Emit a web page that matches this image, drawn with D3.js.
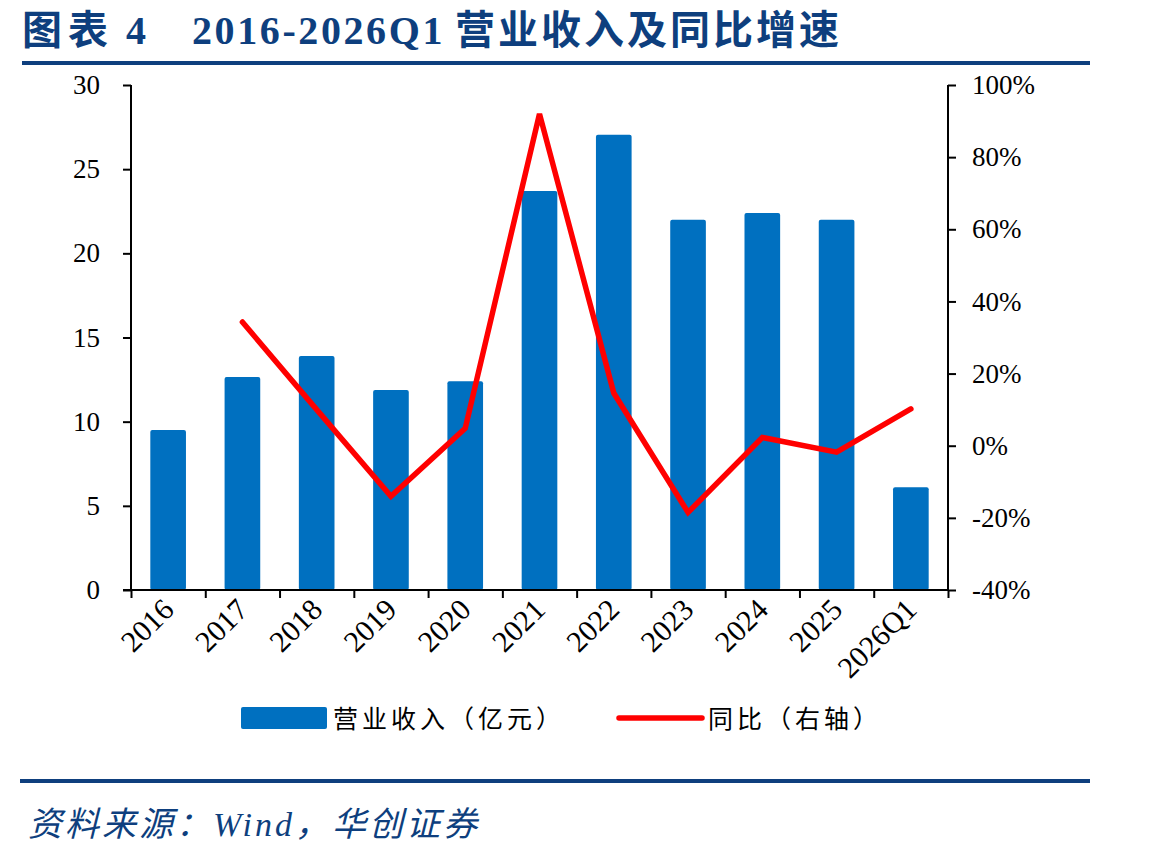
<!DOCTYPE html>
<html>
<head>
<meta charset="utf-8">
<script src="https://cdn.jsdelivr.net/npm/d3@7"></script>
<style>
  body { margin: 0; background: #fff; }
  svg { display: block; }
</style>
</head>
<body>
<svg id="chart" width="1149" height="857"></svg>
<script>
// Data
const categories = ["2016", "2017", "2018", "2019", "2020", "2021", "2022", "2023", "2024", "2025", "2026Q1"];
const revenue = [9.5, 12.65, 13.9, 11.88, 12.4, 23.7, 27.05, 22.0, 22.4, 22.0, 6.1];
const growth = [null, 34.3, 10.0, -14.0, 4.8, 92.0, 14.6, -18.5, 2.3, -1.8, 10.2];
const leftTicks = [0, 5, 10, 15, 20, 25, 30];
const rightTicks = [-40, -20, 0, 20, 40, 60, 80, 100];

const colors = {
  bar: "#0070C0",
  line: "#FF0000",
  navy: "#0E3F7E",
};

const serif = "'Liberation Serif', 'DejaVu Serif', serif";
const cjk = "'Liberation Serif', 'Noto Sans CJK SC', serif";

const svg = d3.select("#chart");
const margin = { left: 131, right: 948, top: 85, bottom: 590 };

const x = d3.scaleBand().domain(categories).range([margin.left, margin.right]).paddingInner(0.52).paddingOuter(0.26);
const xEdges = d3.scaleLinear().domain([0, categories.length]).range([margin.left, margin.right]);
const yL = d3.scaleLinear().domain([0, 30]).range([margin.bottom, margin.top]);
const yR = d3.scaleLinear().domain([-40, 100]).range([margin.bottom, margin.top]);

// Title
const title = svg.append("text")
  .attr("x", 22).attr("y", 44)
  .attr("fill", colors.navy)
  .attr("font-family", cjk)
  .attr("font-weight", "bold")
  .attr("font-size", 40);
title.append("tspan").attr("letter-spacing", 6).text("图表");
title.append("tspan").attr("dx", 12).text("4");
title.append("tspan").attr("dx", 46).attr("letter-spacing", 2.6).text("2016-2026Q1");
title.append("tspan").attr("dx", 10).attr("letter-spacing", 3).text("营业收入及同比增速");

// Rules
svg.append("rect").attr("x", 22).attr("y", 61).attr("width", 1068).attr("height", 4).attr("fill", colors.navy);
svg.append("rect").attr("x", 20).attr("y", 779).attr("width", 1070).attr("height", 4).attr("fill", colors.navy);

// Bars
svg.append("g").selectAll("rect")
  .data(categories)
  .join("rect")
  .attr("x", (d) => x(d))
  .attr("y", (d, i) => yL(revenue[i]))
  .attr("width", x.bandwidth())
  .attr("height", (d, i) => yL(0) - yL(revenue[i]))
  .attr("rx", 2)
  .attr("fill", colors.bar);

// Left axis
const axL = svg.append("g")
  .attr("transform", `translate(${margin.left},0)`)
  .call(d3.axisLeft(yL).tickValues(leftTicks).tickSize(8).tickPadding(23));
// Right axis
const axR = svg.append("g")
  .attr("transform", `translate(${margin.right},0)`)
  .call(d3.axisRight(yR).tickValues(rightTicks).tickSize(8).tickPadding(16).tickFormat((d) => d + "%"));
// Bottom axis line + ticks at band edges
const axB = svg.append("g")
  .attr("transform", `translate(0,${margin.bottom})`)
  .call(d3.axisBottom(xEdges).tickValues(d3.range(categories.length + 1)).tickSize(8).tickFormat(""));
axB.select(".domain").attr("d", `M${margin.left - 8},0H${margin.right}`);

[axL, axR, axB].forEach((g) => {
  g.select(".domain").attr("stroke", "#000").attr("stroke-width", 2);
  g.selectAll(".tick line").attr("stroke", "#000").attr("stroke-width", 2);
  g.selectAll("text").attr("font-family", serif).attr("font-size", 27).attr("fill", "#000");
});
axL.select(".domain").attr("d", `M0,${margin.top}V${margin.bottom}`);
axR.select(".domain").attr("d", `M0,${margin.top}V${margin.bottom}`);

// X labels rotated
svg.append("g").selectAll("text")
  .data(categories)
  .join("text")
  .attr("transform", (d) => `translate(${x(d) + x.bandwidth() / 2},${margin.bottom + 14}) rotate(-45)`)
  .attr("text-anchor", "end")
  .attr("dy", "0.35em")
  .attr("font-family", serif)
  .attr("font-size", 30)
  .text((d) => d);

// Growth line
const line = d3.line()
  .defined((d) => d != null)
  .x((d, i) => x(categories[i]) + x.bandwidth() / 2)
  .y((d) => yR(d));
svg.append("path")
  .datum(growth)
  .attr("d", line)
  .attr("fill", "none")
  .attr("stroke", colors.line)
  .attr("stroke-width", 5.5)
  .attr("stroke-linejoin", "miter")
  .attr("stroke-linecap", "round");

// Legend
const legend = svg.append("g").attr("font-family", "'Noto Sans CJK SC', sans-serif").attr("font-size", 25);
legend.append("rect").attr("x", 241).attr("y", 707).attr("width", 86).attr("height", 22).attr("rx", 2).attr("fill", colors.bar);
legend.append("text").attr("x", 333).attr("y", 728).attr("letter-spacing", 4).text("营业收入（亿元）");
legend.append("line").attr("x1", 619).attr("x2", 702).attr("y1", 718).attr("y2", 718)
  .attr("stroke", colors.line).attr("stroke-width", 5.5).attr("stroke-linecap", "round");
legend.append("text").attr("x", 708).attr("y", 728).attr("letter-spacing", 4).text("同比（右轴）");

// Source
svg.append("text")
  .attr("x", 28).attr("y", 836)
  .attr("fill", colors.navy)
  .attr("font-family", cjk)
  .attr("font-style", "italic")
  .attr("font-size", 34)
  .attr("letter-spacing", 3)
  .text("资料来源：Wind，华创证券");
</script>
</body>
</html>
